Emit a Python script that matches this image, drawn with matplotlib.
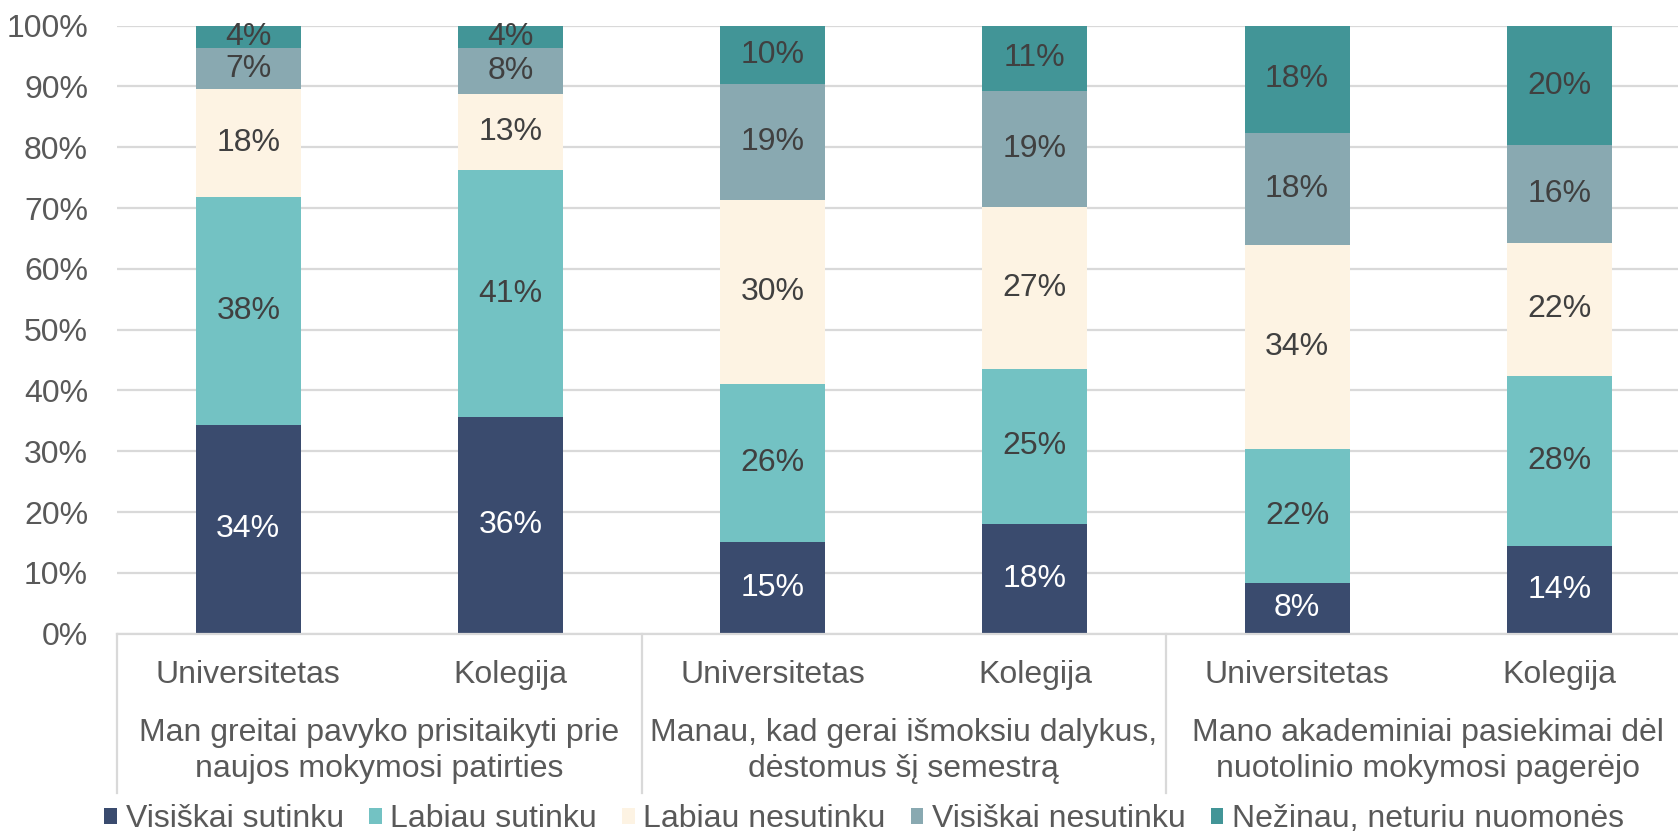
import matplotlib
matplotlib.use("Agg")
import matplotlib.pyplot as plt
from matplotlib.patches import Patch
from matplotlib.ticker import PercentFormatter
import matplotlib.transforms as mtransforms

plt.rcParams['font.family'] = ['Liberation Sans', 'DejaVu Sans']

# ---- data ----
bar_labels = ["Universitetas", "Kolegija", "Universitetas", "Kolegija", "Universitetas", "Kolegija"]
group_labels = ["Man greitai pavyko prisitaikyti prie\nnaujos mokymosi patirties",
                "Manau, kad gerai išmoksiu dalykus,\ndėstomus šį semestrą",
                "Mano akademiniai pasiekimai dėl\nnuotolinio mokymosi pagerėjo"]
series_names = ["Visiškai sutinku", "Labiau sutinku", "Labiau nesutinku",
                "Visiškai nesutinku", "Nežinau, neturiu nuomonės"]
visiskai_sutinku = [34.3, 35.6, 15.0, 18.1, 8.4, 14.4]
labiau_sutinku = [37.6, 40.6, 26.0, 25.4, 21.9, 28.0]
labiau_nesutinku = [17.7, 12.6, 30.4, 26.7, 33.6, 21.9]
visiskai_nesutinku = [6.7, 7.6, 19.0, 19.1, 18.4, 16.0]
nezinau = [3.7, 3.6, 9.6, 10.7, 17.7, 19.7]
series_values = [visiskai_sutinku, labiau_sutinku, labiau_nesutinku, visiskai_nesutinku, nezinau]
yticks = list(range(0, 101, 10))

colors = ["#3A4B6E", "#73C2C3", "#FDF3E3", "#89A9B1", "#429597"]
label_colors = ["white", "#404040", "#404040", "#404040", "#404040"]
FS = 23
TICK_C = "#595959"
GRID_C = "#D9D9D9"

fig = plt.figure(figsize=(16.78, 8.35), dpi=100)
ax = fig.add_axes([117.2 / 1678, 201.4 / 835, (1690.4 - 117.2) / 1678, 607.9 / 835])

x = list(range(len(bar_labels)))
bottom = [0.0] * len(x)
handles = []
for name, vals, c, lc in zip(series_names, series_values, colors, label_colors):
    cont = ax.bar(x, vals, width=0.4, bottom=bottom, color=c, label=name, zorder=2)
    ax.bar_label(cont, labels=[f"{v:.0f}%" for v in vals], label_type='center',
                 color=lc, fontsize=FS)
    bottom = [b + v for b, v in zip(bottom, vals)]
    handles.append(Patch(facecolor=c, edgecolor='none', label=name))

ax.set_xlim(-0.5, len(x) - 0.5)
ax.set_ylim(0, 100)
ax.set_yticks(yticks)
ax.yaxis.set_major_formatter(PercentFormatter(decimals=0))
ax.yaxis.grid(True, color=GRID_C, linewidth=1.6, zorder=0)
ax.set_axisbelow(True)
for s in ["top", "right", "left"]:
    ax.spines[s].set_visible(False)
ax.spines["bottom"].set_color(GRID_C)
ax.spines["bottom"].set_linewidth(1.6)
ax.tick_params(axis='y', length=0, pad=21, labelsize=FS, labelcolor=TICK_C)
ax.set_xticks(x)
ax.set_xticklabels(bar_labels)
ax.tick_params(axis='x', length=0, pad=19, labelsize=FS, labelcolor=TICK_C)

trans = mtransforms.blended_transform_factory(ax.transData, ax.transAxes)
for sx in [-0.5, 1.5, 3.5, 5.5]:
    ax.plot([sx, sx], [0, -0.262], transform=trans, color=GRID_C, linewidth=1.6,
            clip_on=False)
for gi, gl in enumerate(group_labels):
    ax.text(2 * gi + 0.5, -0.193, gl, transform=trans, ha='center', va='center',
            fontsize=FS, color=TICK_C, linespacing=1.27)

fig.legend(handles=handles, loc='center', bbox_to_anchor=(0.515, 0.019), ncol=5,
           frameon=False, fontsize=FS, handlelength=0.4, handleheight=0.4,
           handletextpad=0.27, columnspacing=0.78, labelcolor=TICK_C,
           borderaxespad=0, borderpad=0)

fig.savefig("out.png", dpi=100)
